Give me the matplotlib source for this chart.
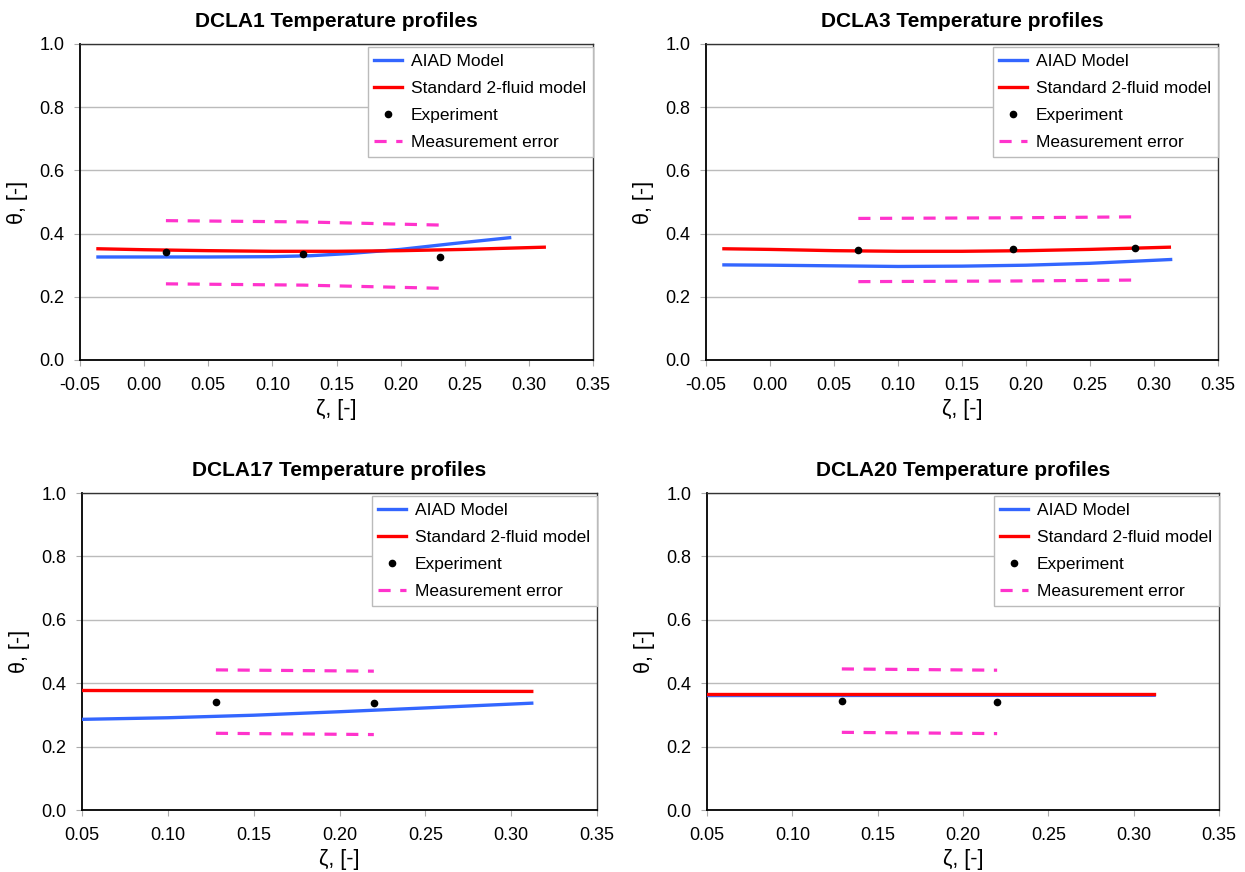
import numpy as np
import matplotlib.pyplot as plt

plt.rcParams['font.family'] = ['Liberation Sans', 'DejaVu Sans']

# DCLA1
z1_aiad = [-0.036, 0.0, 0.05, 0.10, 0.13, 0.16, 0.20, 0.24, 0.285]
t1_aiad = [0.326, 0.326, 0.326, 0.327, 0.330, 0.337, 0.350, 0.368, 0.387]
z1_std = [-0.036, 0.0, 0.05, 0.10, 0.15, 0.20, 0.25, 0.312]
t1_std = [0.352, 0.349, 0.346, 0.344, 0.344, 0.346, 0.350, 0.357]
z1_exp = [0.017, 0.124, 0.231]
t1_exp = [0.341, 0.337, 0.327]

# DCLA3
z3_aiad = [-0.036, 0.0, 0.05, 0.10, 0.15, 0.20, 0.25, 0.313]
t3_aiad = [0.301, 0.300, 0.298, 0.296, 0.297, 0.300, 0.306, 0.318]
z3_std = [-0.036, 0.0, 0.05, 0.10, 0.15, 0.20, 0.25, 0.312]
t3_std = [0.352, 0.350, 0.346, 0.344, 0.344, 0.346, 0.350, 0.357]
z3_exp = [0.069, 0.190, 0.285]
t3_exp = [0.348, 0.350, 0.353]

# DCLA17
z17_aiad = [0.05, 0.10, 0.15, 0.20, 0.25, 0.312]
t17_aiad = [0.286, 0.291, 0.299, 0.310, 0.322, 0.337]
z17_std = [0.05, 0.312]
t17_std = [0.377, 0.374]
z17_exp = [0.128, 0.220]
t17_exp = [0.342, 0.338]

# DCLA20
z20_aiad = [0.05, 0.312]
t20_aiad = [0.361, 0.362]
z20_std = [0.05, 0.312]
t20_std = [0.366, 0.366]
z20_exp = [0.129, 0.220]
t20_exp = [0.345, 0.341]

err = 0.1

panels = [
    ('DCLA1 Temperature profiles', z1_aiad, t1_aiad, z1_std, t1_std, z1_exp, t1_exp, (-0.05, 0.35)),
    ('DCLA3 Temperature profiles', z3_aiad, t3_aiad, z3_std, t3_std, z3_exp, t3_exp, (-0.05, 0.35)),
    ('DCLA17 Temperature profiles', z17_aiad, t17_aiad, z17_std, t17_std, z17_exp, t17_exp, (0.05, 0.35)),
    ('DCLA20 Temperature profiles', z20_aiad, t20_aiad, z20_std, t20_std, z20_exp, t20_exp, (0.05, 0.35)),
]

# axes rectangles in pixels: left, top, right, bottom
boxes = [(80, 44, 593, 360), (706, 44, 1218, 360),
         (82, 493, 597, 810), (707, 493, 1219, 810)]

W, H = 1245, 872
fig = plt.figure(figsize=(W / 100, H / 100), dpi=100)

for (title, za, ta, zs, ts, ze, te, xl), (l, t, r, b) in zip(panels, boxes):
    ax = fig.add_axes([l / W, 1 - b / H, (r - l) / W, (b - t) / H])
    ax.plot(za, ta, color='#3366FF', lw=2.4, label='AIAD Model', zorder=3)
    ax.plot(zs, ts, color='#FF0000', lw=2.4, label='Standard 2-fluid model', zorder=4)
    ax.plot(ze, te, 'o', color='black', ms=4.5, label='Experiment', zorder=5)
    ax.plot(ze, np.array(te) + err, color='#FF33CC', lw=2.3, ls=(0, (3.8, 3.0)),
            label='Measurement error', zorder=2)
    ax.plot(ze, np.array(te) - err, color='#FF33CC', lw=2.3, ls=(0, (3.8, 3.0)), zorder=2)

    ax.set_xlim(*xl)
    ax.set_ylim(0, 1.0)
    ax.set_xticks(np.arange(xl[0], 0.351, 0.05))
    ax.set_yticks(np.arange(0, 1.01, 0.2))
    ax.xaxis.set_major_formatter(plt.FormatStrFormatter('%.2f'))
    ax.yaxis.set_major_formatter(plt.FormatStrFormatter('%.1f'))
    ax.grid(axis='y', color='#BBBBBB', lw=1)
    ax.set_axisbelow(True)
    ax.tick_params(labelsize=13, color='#AAAAAA', length=4, direction='out')
    ax.tick_params(axis='x', pad=8)
    ax.tick_params(axis='y', pad=7)
    for s in ['left', 'bottom']:
        ax.spines[s].set_color('black')
        ax.spines[s].set_linewidth(1.3)
    for s in ['top', 'right']:
        ax.spines[s].set_color('#333333')
        ax.spines[s].set_linewidth(1.0)
    ax.set_title(title, fontsize=15, fontweight='bold', pad=12)
    ax.set_xlabel('ζ, [-]', fontsize=15.5, labelpad=4)
    ax.set_ylabel('θ, [-]', fontsize=15.5, labelpad=8)
    leg = ax.legend(loc='upper right', bbox_to_anchor=(1.0, 0.99), fontsize=12.5,
                    frameon=True, fancybox=False, edgecolor='#BBBBBB', framealpha=1,
                    handlelength=1.6, handletextpad=0.5, labelspacing=0.68,
                    borderpad=0.4, borderaxespad=0)
    leg.get_frame().set_linewidth(1.0)

fig.savefig('out.png', dpi=100)
